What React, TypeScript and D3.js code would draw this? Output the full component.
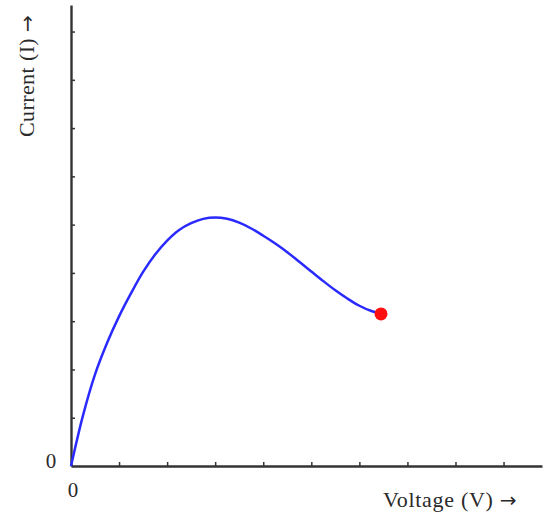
import React, { useEffect, useRef } from "react";
import * as d3 from "d3";

// I-V curve (voltage, current)
const voltage = [0, 0.25, 0.5, 0.75, 1.0, 1.25, 1.5, 1.75, 2.0, 2.25, 2.5, 2.75, 3.0, 3.25, 3.5, 3.75, 4.0, 4.25, 4.5, 4.75, 5.0, 5.25, 5.5, 5.75, 6.0, 6.25, 6.45];
const current = [0, 1.05, 1.9, 2.55, 3.1, 3.58, 4.02, 4.38, 4.67, 4.89, 5.03, 5.12, 5.15, 5.12, 5.04, 4.92, 4.77, 4.61, 4.43, 4.23, 4.03, 3.83, 3.64, 3.47, 3.32, 3.21, 3.15];
const xTicks = [1, 2, 3, 4, 5, 6, 7, 8, 9];
const yTicks = [1, 2, 3, 4, 5, 6, 7, 8, 9];
const endPoint = { v: 6.45, i: 3.15 };

export default function App() {
	const svgRef = useRef<SVGSVGElement>(null);

	useEffect(() => {
		if (!svgRef.current) return;
		const svg = d3.select(svgRef.current);
		svg.selectAll("*").remove();

		const x = d3.scaleLinear().domain([0, 9.8]).range([71, 542]);
		const y = d3.scaleLinear().domain([0, 9.55]).range([466, 5]);

		const axisColor = "#333";

		const xAxisGroup = svg.append("g").attr("transform", `translate(0,${y(0)})`);
		xAxisGroup.call(
			d3.axisBottom(x).tickValues(xTicks).tickSize(-4).tickSizeOuter(0).tickFormat(() => "")
		);
		const yAxisGroup = svg.append("g").attr("transform", `translate(${x(0)},0)`);
		yAxisGroup.call(
			d3.axisLeft(y).tickValues(yTicks).tickSize(-4).tickSizeOuter(0).tickFormat(() => "")
		);
		svg.selectAll(".domain").attr("stroke", axisColor).attr("stroke-width", 2.4);
		svg.selectAll(".tick line").attr("stroke", axisColor).attr("stroke-width", 1.5);

		const data = voltage.map((v, k) => ({ v, i: current[k] }));
		const line = d3
			.line<{ v: number; i: number }>()
			.x((d) => x(d.v))
			.y((d) => y(d.i))
			.curve(d3.curveCatmullRom.alpha(0.5));

		svg
			.append("path")
			.datum(data)
			.attr("fill", "none")
			.attr("stroke", "#2a2aff")
			.attr("stroke-width", 2.5)
			.attr("d", line);

		svg
			.append("circle")
			.attr("cx", x(endPoint.v))
			.attr("cy", y(endPoint.i))
			.attr("r", 6.5)
			.attr("fill", "#ff1010");

		const font = "'Liberation Serif', 'DejaVu Serif', serif";
		const labels = svg.append("g").attr("font-family", font).attr("fill", "#2a2a2a");

		labels
			.append("text")
			.attr("x", 51)
			.attr("y", y(0) + 2)
			.attr("text-anchor", "middle")
			.attr("font-size", 21)
			.text("0");
		labels
			.append("text")
			.attr("x", x(0) + 2)
			.attr("y", 497)
			.attr("text-anchor", "middle")
			.attr("font-size", 21)
			.text("0");

		const vLabel = labels
			.append("text")
			.attr("x", 383)
			.attr("y", 507)
			.attr("font-size", 22)
			.attr("letter-spacing", 0.7);
		vLabel.append("tspan").text("Voltage (V) ");
		vLabel.append("tspan").attr("font-family", "'DejaVu Sans'").attr("font-size", 20).text("\u2192");

		const iLabel = labels
			.append("text")
			.attr("transform", `translate(34,137) rotate(-90)`)
			.attr("font-size", 22)
			.attr("letter-spacing", 0.4);
		iLabel.append("tspan").text("Current (I) ");
		iLabel.append("tspan").attr("font-family", "'DejaVu Sans'").attr("font-size", 20).text("\u2192");
	}, []);

	return (
		<div style={{ position: "absolute", left: 0, top: 0 }}>
			<svg ref={svgRef} width={552} height={520} style={{ display: "block", background: "#fff" }} />
		</div>
	);
}
